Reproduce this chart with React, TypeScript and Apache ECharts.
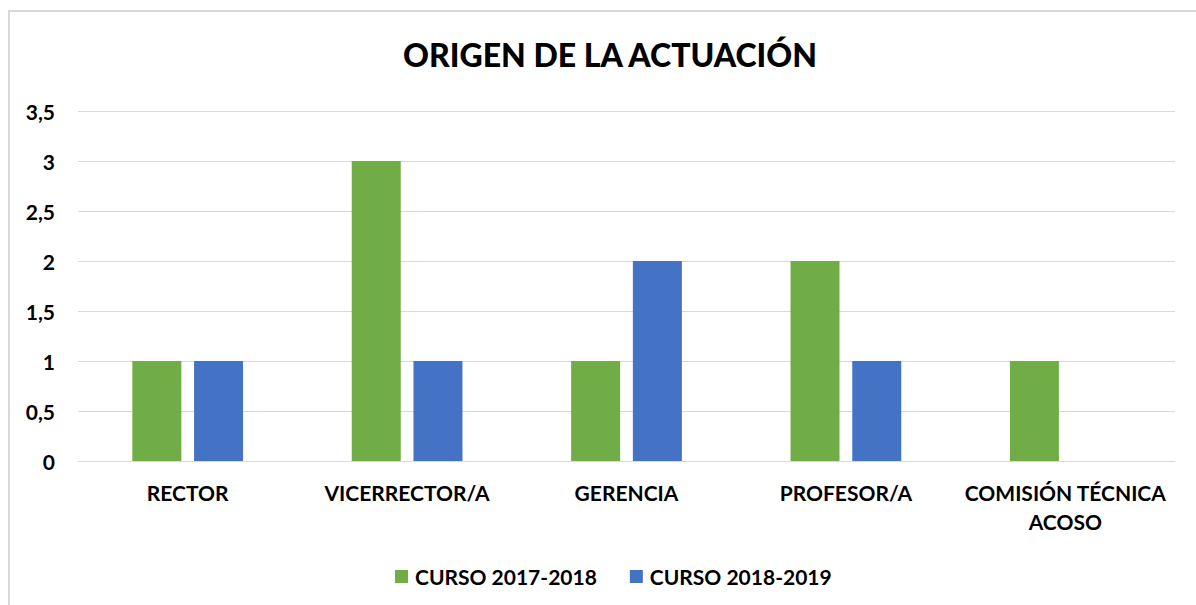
import React, { useEffect, useRef } from "react";
import * as echarts from "echarts";

const categories = ["RECTOR", "VICERRECTOR/A", "GERENCIA", "PROFESOR/A", "COMISIÓN TÉCNICA\nACOSO"];
const curso2017 = [1, 3, 1, 2, 1];
const curso2018 = [1, 1, 2, 1, null];
const seriesNames = ["CURSO 2017-2018", "CURSO 2018-2019"];

const FONT = "Lato, 'Open Sans', sans-serif";

export default function App() {
  const ref = useRef<HTMLDivElement>(null);
  useEffect(() => {
    const chart = echarts.init(ref.current!, null, { renderer: "svg" });
    chart.setOption({
      animation: false,
      backgroundColor: "#fff",
      title: {
        text: "ORIGEN DE LA ACTUACIÓN",
        left: 605,
        textAlign: "center",
        top: 33,
        textStyle: { fontFamily: FONT, fontWeight: 900, fontSize: 32, color: "#000" },
      },
      legend: {
        left: 390,
        top: 561,
        itemWidth: 13,
        itemHeight: 13,
        itemGap: 33,
        icon: "rect",
        textStyle: { fontFamily: FONT, fontWeight: "bold", fontSize: 21, color: "#000", padding: [0, 0, 0, 2] },
        data: seriesNames,
      },
      grid: { left: 78, right: 21, top: 111, bottom: 144, containLabel: false },
      xAxis: {
        type: "category",
        data: categories,
        axisLine: { show: true, lineStyle: { color: "#d9d9d9", width: 1 } },
        axisTick: { show: false },
        axisLabel: {
          interval: 0,
          margin: 17,
          fontFamily: FONT,
          fontWeight: "bold",
          fontSize: 21,
          lineHeight: 29,
          color: "#000",
        },
      },
      yAxis: {
        type: "value",
        min: 0,
        max: 3.5,
        interval: 0.5,
        axisLine: { show: false },
        axisTick: { show: false },
        splitLine: { lineStyle: { color: "#d9d9d9", width: 1 } },
        axisLabel: {
          margin: 23,
          fontFamily: FONT,
          fontWeight: "bold",
          fontSize: 21,
          color: "#000",
          formatter: (v: number) => String(v).replace(".", ","),
        },
      },
      series: [
        {
          name: seriesNames[0],
          type: "bar",
          data: curso2017,
          barWidth: 49,
          barGap: "26%",
          itemStyle: { color: "#70AD47" },
        },
        {
          name: seriesNames[1],
          type: "bar",
          data: curso2018,
          barWidth: 49,
          barGap: "26%",
          itemStyle: { color: "#4472C4" },
        },
      ],
      graphic: [
        {
          type: "rect",
          shape: { x: 9, y: 11, width: 1300, height: 700 },
          style: { fill: "none", stroke: "#d9d9d9", lineWidth: 2 },
          silent: true,
        },
      ],
    });
    return () => chart.dispose();
  }, []);
  return (
    <div
      ref={ref}
      style={{ position: "absolute", left: 0, top: 0, width: 1196, height: 605 }}
    />
  );
}
